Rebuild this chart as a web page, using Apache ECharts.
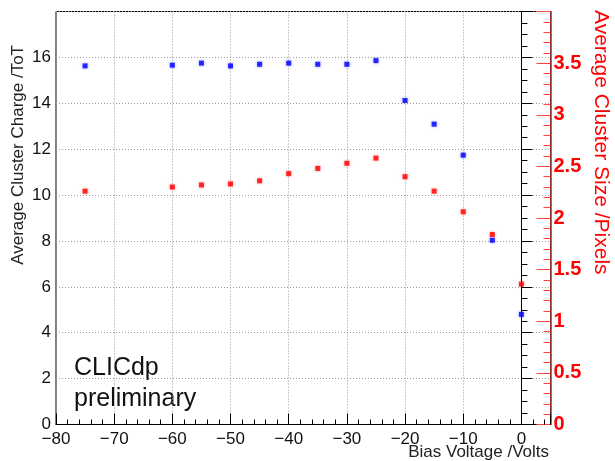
<!DOCTYPE html>
<html>
<head>
<meta charset="utf-8">
<script src="https://cdn.jsdelivr.net/npm/echarts@6/dist/echarts.min.js"></script>
<style>
html,body{margin:0;padding:0;background:#fff;}
#chart{width:615px;height:461px;}
</style>
</head>
<body>
<div id="chart"></div>
<script>
var biasVoltage = [-75, -60, -55, -50, -45, -40, -35, -30, -25, -20, -15, -10, -5, 0];
var clusterCharge = [15.63, 15.66, 15.75, 15.63, 15.70, 15.75, 15.70, 15.70, 15.86, 14.12, 13.09, 11.74, 8.03, 4.80];
var clusterSize = [2.26, 2.30, 2.32, 2.33, 2.36, 2.43, 2.48, 2.53, 2.58, 2.40, 2.26, 2.06, 1.84, 1.36];
var xTitle = 'Bias Voltage /Volts';
var yLeftTitle = 'Average Cluster Charge /ToT';
var yRightTitle = 'Average Cluster Size /Pixels';
var labelLines = ['CLICdp', 'preliminary'];

function pairs(xs, ys) { return xs.map(function (x, i) { return [x, ys[i]]; }); }
function minusFmt(v) { return (v < 0 ? '\u2212' + Math.abs(v) : String(v)); }

var FONT = 'Liberation Sans';
var chart = echarts.init(document.getElementById('chart'), null, {renderer: 'canvas'});
var gridDash = {color: '#999', width: 1, type: [1, 2]};

chart.setOption({
  animation: false,
  backgroundColor: '#fff',
  grid: {left: 56, right: 64.5, top: 11.5, bottom: 36.5, show: true, borderColor: '#000', borderWidth: 1, backgroundColor: 'transparent'},
  xAxis: {
    type: 'value', min: -80, max: 5, interval: 10,
    axisLine: {show: true, onZero: false, lineStyle: {color: '#000', width: 1}},
    axisTick: {show: true, inside: true, length: 11, lineStyle: {color: '#000'}},
    minorTick: {show: true, splitNumber: 5, length: 5, lineStyle: {color: '#000'}},
    splitLine: {show: true, lineStyle: gridDash},
    axisLabel: {show: true, showMaxLabel: false, fontFamily: FONT, fontSize: 17, color: '#111', margin: 6, formatter: minusFmt}
  },
  yAxis: [{
    type: 'value', min: 0, max: 18, interval: 2, position: 'left',
    axisLine: {show: true, lineStyle: {color: '#000', width: 1}},
    axisTick: {show: true, inside: true, length: 11, lineStyle: {color: '#000'}},
    minorTick: {show: true, splitNumber: 4, length: 6, lineStyle: {color: '#000'}},
    splitLine: {show: true, lineStyle: gridDash},
    axisLabel: {show: true, showMaxLabel: false, fontFamily: FONT, fontSize: 17, color: '#111', margin: 5}
  }, {
    type: 'value', min: 0, max: 4, interval: 0.5, position: 'right',
    axisLine: {show: true, lineStyle: {color: '#a02a2a', width: 1.5}},
    axisTick: {show: true, inside: true, length: 14, lineStyle: {color: '#ff4040'}},
    minorTick: {show: true, splitNumber: 5, length: 7, lineStyle: {color: '#ff4040'}},
    splitLine: {show: false},
    axisLabel: {show: true, showMaxLabel: false, fontFamily: FONT, fontSize: 20, fontWeight: 'bold', color: '#ff0000', margin: 3}
  }],
  graphic: [
    {type: 'text', x: 18, y: 45, rotation: Math.PI / 2, silent: true,
     style: {text: yLeftTitle, fontFamily: FONT, fontSize: 17, fill: '#222', align: 'right', verticalAlign: 'middle'}},
    {type: 'text', x: 601, y: 10, rotation: -Math.PI / 2, silent: true,
     style: {text: yRightTitle, fontFamily: FONT, fontSize: 21, fill: '#ff0000', align: 'left', verticalAlign: 'middle'}},
    {type: 'text', x: 549, y: 452, silent: true,
     style: {text: xTitle, fontFamily: FONT, fontSize: 17, fill: '#222', align: 'right', verticalAlign: 'middle'}},
    {type: 'text', x: 74, y: 368, silent: true,
     style: {text: labelLines[0], fontFamily: FONT, fontSize: 25, fill: '#111', align: 'left', verticalAlign: 'middle'}},
    {type: 'text', x: 74, y: 399, silent: true,
     style: {text: labelLines[1], fontFamily: FONT, fontSize: 25, fill: '#111', align: 'left', verticalAlign: 'middle'}}
  ],
  series: [{
    name: 'charge', type: 'scatter', yAxisIndex: 0, symbol: 'rect', symbolSize: 5,
    itemStyle: {color: '#0000ff', shadowBlur: 3, shadowColor: 'rgba(0,0,255,0.5)'},
    data: pairs(biasVoltage, clusterCharge)
  }, {
    name: 'size', type: 'scatter', yAxisIndex: 1, symbol: 'rect', symbolSize: 5,
    itemStyle: {color: '#ff0000', shadowBlur: 3, shadowColor: 'rgba(255,0,0,0.5)'},
    data: pairs(biasVoltage, clusterSize)
  }]
});
</script>
</body>
</html>
